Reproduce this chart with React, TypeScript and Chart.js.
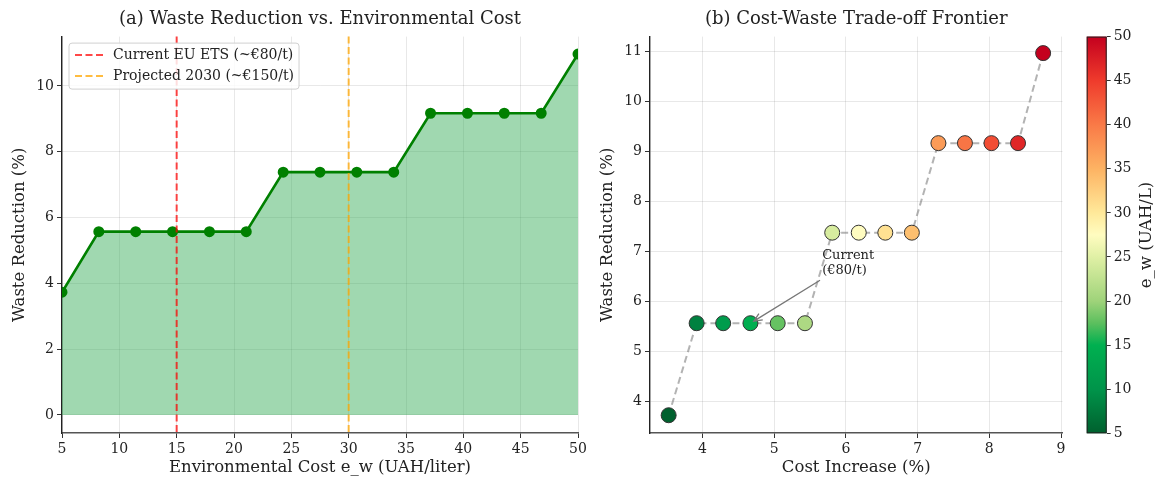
import React, { useEffect, useRef } from "react";
import { Chart, registerables } from "chart.js";

Chart.register(...registerables);

// ---------------- data ----------------
const EW_VALUES = [5, 8.21, 11.43, 14.64, 17.86, 21.07, 24.29, 27.5, 30.71, 33.93, 37.14, 40.36, 43.57, 46.79, 50];
const WASTE_REDUCTION = [3.73, 5.57, 5.57, 5.57, 5.57, 5.57, 7.38, 7.38, 7.38, 7.38, 9.17, 9.17, 9.17, 9.17, 10.97];
const COST_INCREASE = [3.53, 3.92, 4.29, 4.67, 5.05, 5.43, 5.81, 6.18, 6.55, 6.92, 7.29, 7.66, 8.03, 8.4, 8.75];

const REF_X = [15, 30];
const REF_LABELS = ["Current EU ETS (~€80/t)", "Projected 2030 (~€150/t)"];

const LEFT_X_TICKS = [5, 10, 15, 20, 25, 30, 35, 40, 45, 50];
const LEFT_Y_TICKS = [0, 2, 4, 6, 8, 10];
const RIGHT_X_TICKS = [4, 5, 6, 7, 8, 9];
const RIGHT_Y_TICKS = [4, 5, 6, 7, 8, 9, 10, 11];
const CBAR_TICKS = [5, 10, 15, 20, 25, 30, 35, 40, 45, 50];

const ANNOT_LINES = ["Current", "(€80/t)"];
const ANNOT_TEXT_AT = { x: 5.67, y: 6.93 };
const ANNOT_ARROW_FROM = { x: 5.64, y: 6.43 };
const ANNOT_TARGET_INDEX = 3;

// ---------------- styles ----------------
const FONT = "'DejaVu Serif', serif";
const TEXT = "#222";
const GRID = "rgba(0,0,0,0.09)";
const REF_COLORS = ["rgba(255,0,0,0.72)", "rgba(255,165,0,0.75)"];
// colour map stops (value on e_w scale, colour)
const CMAP_POS = [5, 10, 15, 17.5, 20, 25, 27.5, 30, 35, 40, 45, 50];
const CMAP_COL = ["#00602e", "#00944a", "#00b050", "#5cbf5e", "#9fd37a", "#e0f0a5", "#fffcc0", "#ffe99a", "#fdb363", "#f97a47", "#ef3b2c", "#c4001e"];
const EW_MIN = 5;
const EW_MAX = 50;

function hexToRgb(h: string) {
  const n = parseInt(h.slice(1), 16);
  return [(n >> 16) & 255, (n >> 8) & 255, n & 255];
}
function cmap(v: number) {
  const vv = Math.max(EW_MIN, Math.min(EW_MAX, v));
  let i = 0;
  while (i < CMAP_POS.length - 2 && vv > CMAP_POS[i + 1]) i++;
  const f = (vv - CMAP_POS[i]) / (CMAP_POS[i + 1] - CMAP_POS[i]);
  const a = hexToRgb(CMAP_COL[i]);
  const b = hexToRgb(CMAP_COL[i + 1]);
  const c = a.map((x, k) => Math.round(x + (b[k] - x) * f));
  return `rgb(${c[0]},${c[1]},${c[2]})`;
}

Chart.defaults.font.family = FONT;
Chart.defaults.color = TEXT;

const tickFont = { size: 14, family: FONT };
const axisTitleFont = { size: 16.5, family: FONT };
const titleFont = { size: 18, family: FONT, weight: "normal" };

function fixedTicks(values: number[]) {
  return (axis: any) => {
    axis.ticks = values.map((v) => ({ value: v }));
  };
}

const refLinesAndLegend = {
  id: "refLinesAndLegend",
  afterDatasetsDraw(chart: any) {
    const { ctx, chartArea, scales } = chart;
    REF_X.forEach((v, i) => {
      const px = scales.x.getPixelForValue(v);
      ctx.save();
      ctx.strokeStyle = REF_COLORS[i];
      ctx.lineWidth = 2;
      ctx.setLineDash([7, 3.5]);
      ctx.beginPath();
      ctx.moveTo(px, chartArea.top);
      ctx.lineTo(px, chartArea.bottom);
      ctx.stroke();
      ctx.restore();
    });
    ctx.save();
    ctx.font = `14px ${FONT}`;
    const maxW = Math.max(...REF_LABELS.map((l) => ctx.measureText(l).width));
    const x0 = chartArea.left + 7;
    const y0 = chartArea.top + 6.5;
    const w = 44 + maxW + 5;
    const h = 46;
    ctx.beginPath();
    (ctx as any).roundRect(x0, y0, w, h, 3);
    ctx.fillStyle = "rgba(255,255,255,0.82)";
    ctx.fill();
    ctx.strokeStyle = "#d0d0d0";
    ctx.lineWidth = 1;
    ctx.stroke();
    REF_LABELS.forEach((lab, i) => {
      const cy = y0 + 12 + i * 21;
      ctx.strokeStyle = REF_COLORS[i];
      ctx.lineWidth = 2;
      ctx.setLineDash([7, 3.5]);
      ctx.beginPath();
      ctx.moveTo(x0 + 6, cy);
      ctx.lineTo(x0 + 34, cy);
      ctx.stroke();
      ctx.setLineDash([]);
      ctx.fillStyle = TEXT;
      ctx.textBaseline = "middle";
      ctx.textAlign = "left";
      ctx.fillText(lab, x0 + 44, cy);
    });
    ctx.restore();
  },
};

const annotationPlugin = {
  id: "annotation",
  afterDatasetsDraw(chart: any) {
    const { ctx, scales } = chart;
    const { x, y } = scales;
    const sx = x.getPixelForValue(ANNOT_ARROW_FROM.x);
    const sy = y.getPixelForValue(ANNOT_ARROW_FROM.y);
    const cx = x.getPixelForValue(COST_INCREASE[ANNOT_TARGET_INDEX]);
    const cy = y.getPixelForValue(WASTE_REDUCTION[ANNOT_TARGET_INDEX]);
    const dx = cx - sx;
    const dy = cy - sy;
    const len = Math.hypot(dx, dy);
    const ux = dx / len;
    const uy = dy / len;
    const tx = cx - ux * 4;
    const ty = cy - uy * 4;
    ctx.save();
    ctx.strokeStyle = "#777";
    ctx.lineWidth = 1.3;
    ctx.beginPath();
    ctx.moveTo(sx, sy);
    ctx.lineTo(tx, ty);
    const ang = Math.atan2(dy, dx);
    const hl = 9;
    const spread = 0.42;
    ctx.moveTo(tx - hl * Math.cos(ang - spread), ty - hl * Math.sin(ang - spread));
    ctx.lineTo(tx, ty);
    ctx.lineTo(tx - hl * Math.cos(ang + spread), ty - hl * Math.sin(ang + spread));
    ctx.stroke();
    ctx.fillStyle = TEXT;
    ctx.font = `13px ${FONT}`;
    ctx.textAlign = "left";
    ctx.textBaseline = "middle";
    const px = x.getPixelForValue(ANNOT_TEXT_AT.x);
    const py = y.getPixelForValue(ANNOT_TEXT_AT.y);
    ANNOT_LINES.forEach((l, i) => ctx.fillText(l, px, py + i * 15));
    ctx.restore();
  },
};

const colorbarPlugin = {
  id: "colorbar",
  beforeDatasetsDraw(chart: any) {
    const { ctx, chartArea, scales } = chart;
    const ys = scales.y;
    const g = ctx.createLinearGradient(0, ys.getPixelForValue(EW_MIN), 0, ys.getPixelForValue(EW_MAX));
    CMAP_POS.forEach((p, i) => g.addColorStop((p - EW_MIN) / (EW_MAX - EW_MIN), CMAP_COL[i]));
    ctx.save();
    ctx.fillStyle = g;
    ctx.fillRect(chartArea.left, chartArea.top, chartArea.right - chartArea.left, chartArea.bottom - chartArea.top);
    ctx.strokeStyle = "#222";
    ctx.lineWidth = 1;
    ctx.strokeRect(chartArea.left + 0.5, chartArea.top + 0.5, chartArea.right - chartArea.left - 1, chartArea.bottom - chartArea.top - 1);
    ctx.translate(72, (chartArea.top + chartArea.bottom) / 2);
    ctx.rotate(-Math.PI / 2);
    ctx.font = `16.5px ${FONT}`;
    ctx.fillStyle = TEXT;
    ctx.textAlign = "center";
    ctx.textBaseline = "middle";
    ctx.fillText("e_w (UAH/L)", 0, 0);
    ctx.restore();
  },
};

function axisBase(extra: any) {
  return {
    type: "linear",
    grid: { color: GRID, tickColor: "#333", tickLength: 5, lineWidth: 1 },
    ticks: { font: tickFont, color: TEXT, padding: 3 },
    ...extra,
  };
}

export default function App() {
  const leftRef = useRef<HTMLCanvasElement>(null);
  const rightRef = useRef<HTMLCanvasElement>(null);
  const cbarRef = useRef<HTMLCanvasElement>(null);

  useEffect(() => {
    const charts: Chart[] = [];

    charts.push(
      new Chart(leftRef.current!, {
        type: "line",
        data: {
          datasets: [
            {
              label: "Waste Reduction",
              data: EW_VALUES.map((x, i) => ({ x, y: WASTE_REDUCTION[i] })),
              borderColor: "#008000",
              backgroundColor: "rgba(44,168,79,0.45)",
              pointBackgroundColor: "#008000",
              pointBorderColor: "#008000",
              pointRadius: 4.2,
              borderWidth: 2.6,
              fill: "origin",
              tension: 0,
            },
          ],
        },
        options: {
          responsive: false,
          animation: false,
          devicePixelRatio: 1,
          layout: { padding: { left: 0, right: 22, top: 0, bottom: 0 } },
          plugins: {
            legend: { display: false },
            tooltip: { enabled: false },
            title: {
              display: true,
              fullSize: false,
              text: "(a) Waste Reduction vs. Environmental Cost",
              font: titleFont,
              color: TEXT,
              padding: { top: 9, bottom: 6 },
            },
          },
          scales: {
            x: axisBase({
              min: 5,
              max: 50,
              afterBuildTicks: fixedTicks(LEFT_X_TICKS),
              afterFit: (s: any) => { s.height = 46; },
              border: { color: "#555", width: 1.4 },
              title: { display: true, text: "Environmental Cost e_w (UAH/liter)", font: axisTitleFont, color: TEXT, padding: { top: 0, bottom: 1 } },
            }),
            y: axisBase({
              min: -0.55,
              max: 11.5,
              afterBuildTicks: fixedTicks(LEFT_Y_TICKS),
              afterFit: (s: any) => { s.width = 62; },
              border: { color: "#222", width: 1.4 },
              title: { display: true, text: "Waste Reduction (%)", font: axisTitleFont, color: TEXT, padding: { top: 10, bottom: 0 } },
            }),
          },
        } as any,
        plugins: [refLinesAndLegend],
      })
    );

    const scatterData = COST_INCREASE.map((x, i) => ({ x, y: WASTE_REDUCTION[i] }));
    charts.push(
      new Chart(rightRef.current!, {
        type: "line",
        data: {
          datasets: [
            {
              label: "points",
              data: scatterData,
              showLine: false,
              pointRadius: 7.5,
              pointBackgroundColor: EW_VALUES.map((e) => cmap(e)),
              pointBorderColor: "#333",
              pointBorderWidth: 1,
            },
            {
              label: "frontier",
              data: scatterData,
              borderColor: "rgba(128,128,128,0.6)",
              borderWidth: 2,
              borderDash: [7, 4],
              pointRadius: 0,
              tension: 0,
              fill: false,
            },
          ],
        },
        options: {
          responsive: false,
          animation: false,
          devicePixelRatio: 1,
          layout: { padding: { left: 0, right: 12.5, top: 0, bottom: 0 } },
          plugins: {
            legend: { display: false },
            tooltip: { enabled: false },
            title: {
              display: true,
              fullSize: false,
              text: "(b) Cost-Waste Trade-off Frontier",
              font: titleFont,
              color: TEXT,
              padding: { top: 9, bottom: 6 },
            },
          },
          scales: {
            x: axisBase({
              min: 3.27,
              max: 9.02,
              afterBuildTicks: fixedTicks(RIGHT_X_TICKS),
              afterFit: (s: any) => { s.height = 46; },
              border: { color: "#555", width: 1.4 },
              title: { display: true, text: "Cost Increase (%)", font: axisTitleFont, color: TEXT, padding: { top: 0, bottom: 1 } },
            }),
            y: axisBase({
              min: 3.375,
              max: 11.3,
              afterBuildTicks: fixedTicks(RIGHT_Y_TICKS),
              afterFit: (s: any) => { s.width = 60; },
              border: { color: "#222", width: 1.4 },
              title: { display: true, text: "Waste Reduction (%)", font: axisTitleFont, color: TEXT, padding: { top: 8, bottom: 0 } },
            }),
          },
        } as any,
        plugins: [annotationPlugin],
      })
    );

    charts.push(
      new Chart(cbarRef.current!, {
        type: "scatter",
        data: { datasets: [] },
        options: {
          responsive: false,
          animation: false,
          devicePixelRatio: 1,
          layout: { padding: { left: 11.7, right: 0, top: 36.6, bottom: 45.7 } },
          plugins: { legend: { display: false }, tooltip: { enabled: false } },
          scales: {
            x: { type: "linear", display: false },
            y: {
              type: "linear",
              position: "right",
              min: EW_MIN,
              max: EW_MAX,
              afterBuildTicks: fixedTicks(CBAR_TICKS),
              afterFit: (s: any) => { s.width = 51.3; },
              grid: { display: true, drawOnChartArea: false, tickColor: "#333", tickLength: 4 },
              border: { display: false },
              ticks: { font: tickFont, color: TEXT, padding: 3 },
            },
          },
        } as any,
        plugins: [colorbarPlugin],
      })
    );

    return () => charts.forEach((c) => c.destroy());
  }, []);

  return (
    <div style={{ position: "absolute", left: 0, top: 0, width: 1158, height: 479, background: "#fff" }}>
      <canvas ref={leftRef} width={600} height={479} style={{ position: "absolute", left: 0, top: 0 }} />
      <canvas ref={rightRef} width={485} height={479} style={{ position: "absolute", left: 590, top: 0 }} />
      <canvas ref={cbarRef} width={83} height={479} style={{ position: "absolute", left: 1075, top: 0 }} />
    </div>
  );
}
